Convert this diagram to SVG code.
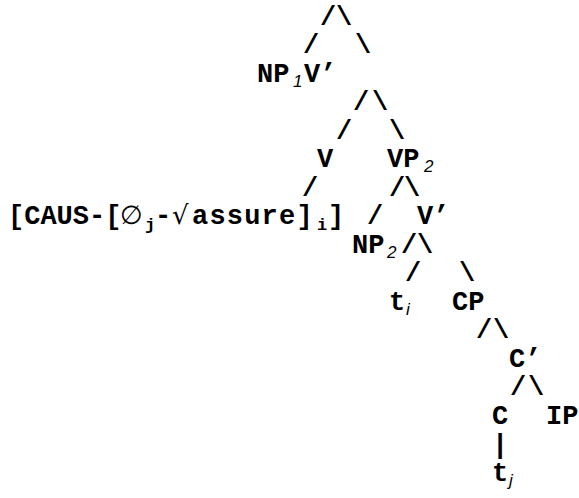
<svg xmlns="http://www.w3.org/2000/svg" width="579" height="498" viewBox="0 0 579 498">
<style>
.m{font-family:"Liberation Mono","Courier New",monospace;font-weight:bold;font-size:27px;fill:#000}
.s{font-family:"Liberation Sans",Arial,sans-serif;font-style:italic;font-size:17px;fill:#000}
.ms{font-family:"Liberation Mono","Courier New",monospace;font-weight:bold;font-size:17px;fill:#000}
.y{font-family:"DejaVu Sans",sans-serif;font-size:26px;fill:#000}
</style>
<rect width="579" height="498" fill="#fff"/>
<g id="connectors" class="m">
<text x="320" y="25">/</text><text x="336" y="25">\</text>
<text x="303" y="53">/</text><text x="355" y="53">\</text>
<text x="353" y="110">/</text><text x="372" y="110">\</text>
<text x="336" y="139">/</text><text x="389" y="139">\</text>
<text x="302" y="196">/</text><text x="389" y="196">/</text><text x="404" y="196">\</text>
<text x="367" y="224">/</text>
<text x="401" y="253">/</text><text x="417" y="253">\</text>
<text x="405" y="281">/</text><text x="459" y="281">\</text>
<text x="476" y="338">/</text><text x="493" y="338">\</text>
<text x="510" y="395">/</text><text x="528" y="395">\</text>
<text x="492" y="453">|</text>
</g>
<g id="NP1"><text class="m" x="257" y="82">NP</text><text class="s" x="293" y="87">1</text></g>
<g id="Vbar1"><text class="m" x="304" y="82">V’</text></g>
<g id="V"><text class="m" x="317" y="167">V</text></g>
<g id="VP2"><text class="m" x="387" y="167">VP</text><text class="s" x="424" y="172">2</text></g>
<g id="CAUS">
<text class="m" x="8" y="224">[CAUS-[</text>
<text class="y" x="120" y="224">∅</text>
<text class="ms" x="145" y="230">j</text>
<text class="m" x="155" y="224">-</text>
<text class="y" x="172" y="224">√</text>
<text class="m" x="192" y="224" letter-spacing="1.2">assure]</text>
<text class="ms" x="317" y="230">i</text>
<text class="m" x="328" y="224">]</text>
</g>
<g id="Vbar2"><text class="m" x="417" y="224">V’</text></g>
<g id="NP2"><text class="m" x="352" y="253">NP</text><text class="s" x="387" y="258">2</text></g>
<g id="ti"><text class="m" x="389" y="310">t</text><text class="s" x="406" y="315">i</text></g>
<g id="CP"><text class="m" x="452" y="310">CP</text></g>
<g id="Cbar"><text class="m" x="509" y="367">C’</text></g>
<g id="C"><text class="m" x="492" y="424">C</text></g>
<g id="IP"><text class="m" x="546" y="424">IP</text></g>
<g id="tj"><text class="m" x="492" y="481">t</text><text class="s" x="509" y="486">j</text></g>
</svg>
